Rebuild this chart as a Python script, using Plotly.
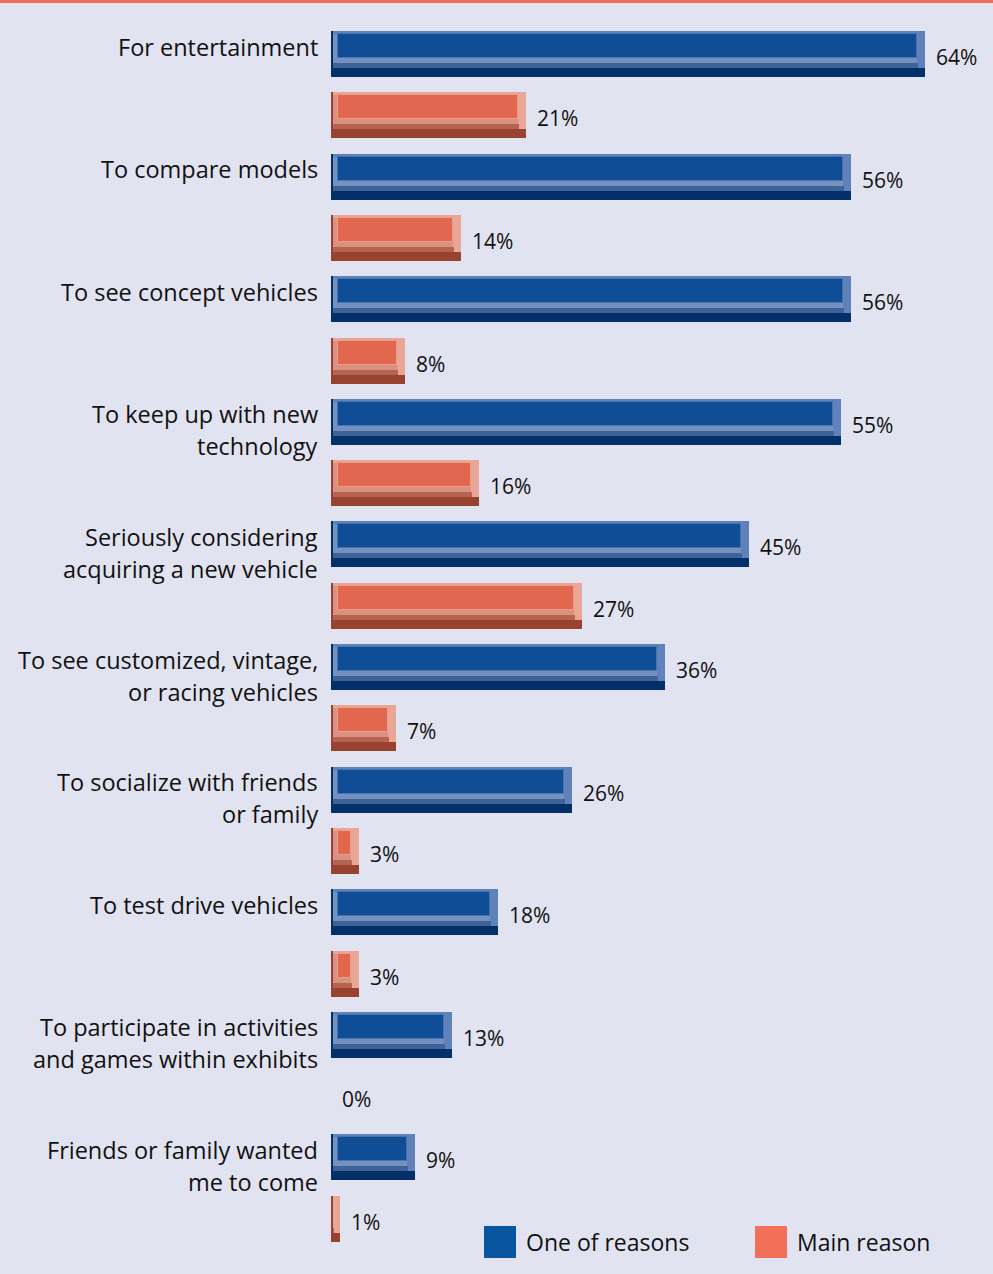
import plotly.graph_objects as go

# Survey data: reasons for attending an auto show (% of respondents)
reasons = [
    ["For entertainment"],
    ["To compare models"],
    ["To see concept vehicles"],
    ["To keep up with new", "technology"],
    ["Seriously considering", "acquiring a new vehicle"],
    ["To see customized, vintage,", "or racing vehicles"],
    ["To socialize with friends", "or family"],
    ["To test drive vehicles"],
    ["To participate in activities", "and games within exhibits"],
    ["Friends or family wanted", "me to come"],
]
one_of_reasons = [64, 56, 56, 55, 45, 36, 26, 18, 13, 9]
main_reason = [21, 14, 8, 16, 27, 7, 3, 3, 0, 1]
series_names = ["One of reasons", "Main reason"]

W, H = 993, 1274
LEFT = 331                      # pixel where the value axis starts
PLOT_W = W - LEFT
PX_X = 9.28                     # pixels per percentage point
PX_Y = 61.3                     # pixels per bar slot
X_MAX = PLOT_W / PX_X
Y_TOP = -54 / PX_Y
Y_BOT = (H - 54) / PX_Y
BAR_PX = 46

BG = "#e1e3f0"
FONT = "Open Sans"
TEXT = "#111111"

# bevel palettes
BLUE = dict(dark="#04306a", rim="#5e82b9", bevel_hi="#7591bf", bevel_lo="#3f6298",
            face="#0f4e96", line="#4a73ab")
RED = dict(dark="#97432f", rim="#e9a595", bevel_hi="#d99282", bevel_lo="#b6644f",
           face="#e1684f", line="#ec9d8a")

n = len(reasons)
pos_blue = [2 * i for i in range(n)]
pos_red = [2 * i + 1 for i in range(n)]


def px2x(p):
    return p / PX_X


def px2y(p):
    return p / PX_Y


def fx(px):
    """Figure pixel column -> paper x (paper spans the plot area)."""
    return (px - LEFT) / PLOT_W


def fy(px):
    """Figure pixel row -> paper y."""
    return 1 - px / H


def layer(fig, pos, lengths, start_px, top_px, height_px, color, line=None):
    line = line or dict(width=0)
    fig.add_trace(go.Bar(
        y=pos, x=lengths, base=px2x(start_px), orientation="h",
        width=px2y(height_px), offset=-px2y(BAR_PX / 2 - top_px),
        marker=dict(color=color, line=line),
        hoverinfo="skip", showlegend=False))


def bevel_bar(fig, pos, vals, pal):
    # a zero bar only leaves a faint hairline just left of the axis
    layer(fig, pos, [0] * len(vals), -5, 2, BAR_PX - 4, "rgba(0,0,0,0)",
          line=dict(width=[1 if v == 0 else 0 for v in vals], color="#f0c2c6"))
    # full bar in the dark shade (left edge + bottom strip)
    layer(fig, pos, vals, 0, 0, BAR_PX, pal["dark"])
    # light rim: top and right edges
    layer(fig, pos, [max(v - px2x(2), 0) for v in vals], 2, 0, BAR_PX - 9, pal["rim"])
    # left and bottom slopes, lit part
    layer(fig, pos, [max(v - px2x(10), 0) for v in vals], 2, 3, BAR_PX - 12, pal["bevel_hi"])
    # bottom slope, shaded part
    layer(fig, pos, [max(v - px2x(9), 0) for v in vals], 2, BAR_PX - 14, 5, pal["bevel_lo"])
    # flat face
    face = [max(v - px2x(15), 0) for v in vals]
    layer(fig, pos, face, 7, 3, BAR_PX - 22, pal["face"],
          line=dict(width=[1 if f > 0 else 0 for f in face], color=pal["line"]))


fig = go.Figure()
bevel_bar(fig, pos_blue, one_of_reasons, BLUE)
bevel_bar(fig, pos_red, main_reason, RED)

annotations = []
# value labels
for pos, vals in ((pos_blue, one_of_reasons), (pos_red, main_reason)):
    for p, v in zip(pos, vals):
        annotations.append(dict(
            x=v, y=p, xref="x", yref="y", text=f"{v}%", showarrow=False,
            xanchor="left", yanchor="middle", xshift=9, yshift=-3,
            font=dict(family=FONT, size=21, color=TEXT)))

# category labels, right-aligned against the axis
for p, lines in zip(pos_blue, reasons):
    for k, line in enumerate(lines):
        annotations.append(dict(
            x=fx(320), y=p, xref="paper", yref="y", text=line, showarrow=False,
            xanchor="right", yanchor="middle", yshift=7.5 - 32 * k,
            font=dict(family=FONT, size=23.5, color=TEXT)))

# legend
legend_items = [(series_names[0], "#0a55a0", 484), (series_names[1], "#f27058", 755)]
shapes = [dict(type="rect", xref="paper", yref="paper", x0=fx(0), x1=fx(W),
               y0=fy(3), y1=1, fillcolor="#ef6e5a", line=dict(width=0))]
for name, col, x0 in legend_items:
    shapes.append(dict(type="rect", xref="paper", yref="paper",
                       x0=fx(x0), x1=fx(x0 + 32),
                       y0=fy(1258), y1=fy(1226),
                       fillcolor=col, line=dict(width=0)))
    annotations.append(dict(
        x=fx(x0 + 40), y=fy(1242), xref="paper", yref="paper",
        text=name, showarrow=False, xanchor="left", yanchor="middle",
        font=dict(family=FONT, size=23, color=TEXT)))

fig.update_layout(
    width=W, height=H,
    margin=dict(l=LEFT, r=0, t=0, b=0),
    paper_bgcolor=BG, plot_bgcolor=BG,
    barmode="overlay", bargap=0,
    showlegend=False,
    xaxis=dict(range=[0, X_MAX], visible=False, fixedrange=True),
    yaxis=dict(range=[Y_BOT, Y_TOP], visible=False, fixedrange=True),
    annotations=annotations, shapes=shapes,
)

fig.write_html("out.html")
